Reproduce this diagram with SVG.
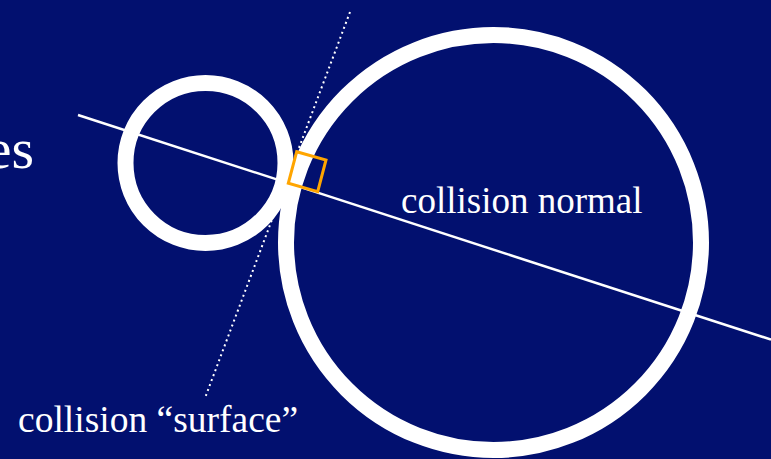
<svg xmlns="http://www.w3.org/2000/svg" width="771" height="459" viewBox="0 0 771 459">
<style>
text{font-family:"Liberation Serif","Times New Roman",serif;fill:#fff}
.ring{fill:none;stroke:#fff;stroke-width:16}
</style>
<rect width="771" height="459" fill="#02106f"/>
<text x="34" y="168" font-size="58" text-anchor="end">es</text>
<g id="small-ball"><circle class="ring" cx="205.5" cy="163" r="80"/></g>
<g id="big-ball"><circle class="ring" cx="493.5" cy="242.5" r="207.5"/></g>
<g id="connectors">
<line x1="78" y1="115" x2="771" y2="339.6" stroke="#fff" stroke-width="2.5"/>
<line x1="350" y1="12" x2="205" y2="398" stroke="#fff" stroke-width="2" stroke-dasharray="2 3.3"/>
</g>
<g id="right-angle"><polygon points="296.7,151.7 326,160 317.7,191.7 288.3,183.3" fill="none" stroke="#ffa500" stroke-width="3"/></g>
<text x="401" y="213" font-size="37">collision normal</text>
<text x="18" y="432" font-size="37.5">collision “surface”</text>
</svg>
